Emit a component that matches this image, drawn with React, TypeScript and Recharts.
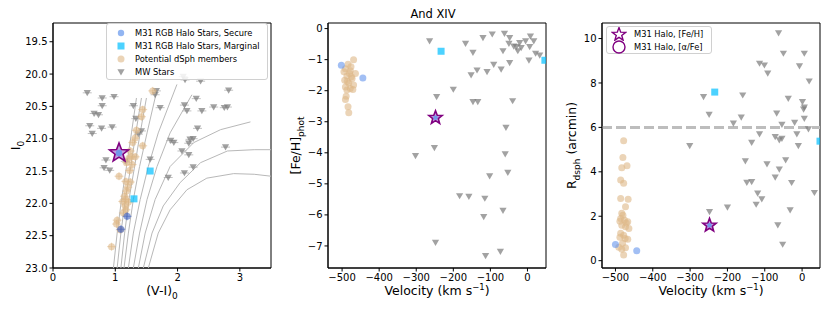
import { ScatterChart, Scatter, XAxis, YAxis, ReferenceLine, ReferenceArea, Legend } from 'recharts'

const FONT = '"DejaVu Sans", Verdana, sans-serif'

// ─── Panel 1: CMD (V-I)0 vs I0 ────────────────────────────────────────────────
// isochrones
const iso1 = [[0.97, 23.0], [1.03, 22.46], [1.10, 21.94], [1.18, 21.43], [1.26, 20.91], [1.34, 20.37]]
const iso2 = [[1.03, 23.0], [1.09, 22.46], [1.16, 21.94], [1.25, 21.43], [1.33, 20.91], [1.42, 20.37]]
const iso3 = [[1.09, 23.0], [1.15, 22.46], [1.22, 21.94], [1.31, 21.43], [1.40, 20.91], [1.50, 20.37]]
const iso4 = [[1.14, 23.0], [1.21, 22.46], [1.29, 21.94], [1.39, 21.43], [1.51, 20.91], [1.67, 20.24]]
const iso5 = [[1.21, 23.0], [1.29, 22.46], [1.40, 21.94], [1.53, 21.43], [1.69, 20.91], [1.99, 20.16]]
const iso6 = [[1.29, 23.0], [1.39, 22.46], [1.51, 21.94], [1.67, 21.43], [1.88, 20.91], [2.23, 20.32]]
const iso7 = [[1.37, 23.0], [1.48, 22.46], [1.64, 21.94], [1.88, 21.43], [2.26, 21.06], [2.69, 20.86], [3.17, 20.74]]
const iso8 = [[1.45, 23.0], [1.59, 22.46], [1.77, 22.04], [2.04, 21.68], [2.37, 21.37], [2.80, 21.19], [3.23, 21.17], [3.5, 21.17]]
const iso9 = [[1.53, 23.0], [1.69, 22.46], [1.88, 22.10], [2.15, 21.79], [2.47, 21.61], [2.90, 21.54], [3.23, 21.55], [3.5, 21.58]]
const isochrones = [iso1, iso2, iso3, iso4, iso5, iso6, iso7, iso8, iso9]

const mwCmd = [
  [0.55, 20.29], [0.79, 20.37], [0.98, 20.35], [0.79, 20.49], [0.66, 20.61], [0.73, 20.63],
  [0.59, 20.80], [0.63, 20.92], [0.78, 20.84], [0.95, 20.82], [1.29, 20.49], [1.33, 20.69],
  [1.37, 20.93], [1.42, 20.88], [1.66, 20.26], [1.64, 20.32], [1.72, 20.52], [2.09, 20.04],
  [2.12, 20.09], [2.37, 20.11], [2.30, 20.38], [2.11, 20.48], [2.15, 20.57], [2.39, 20.57],
  [2.58, 20.51], [2.75, 20.52], [2.82, 20.25], [2.80, 20.51], [2.32, 20.84], [1.89, 21.03],
  [1.94, 21.06], [2.20, 21.01], [2.25, 21.00], [2.18, 21.07], [2.07, 21.19], [2.18, 21.25],
  [2.77, 21.13], [1.56, 21.32], [1.16, 21.35], [0.85, 21.33], [0.82, 21.45], [0.91, 21.49],
  [1.85, 21.60], [2.11, 21.53], [2.25, 21.44],
]
const dsphCmd = [
  [1.60, 20.26], [1.44, 20.55], [1.42, 20.66], [1.34, 20.87], [1.32, 20.99], [1.44, 21.11],
  [1.28, 21.06], [1.24, 21.19], [1.26, 21.28], [1.32, 21.28], [1.18, 21.37], [1.23, 21.49],
  [1.06, 21.58], [1.17, 21.66], [1.24, 21.67], [1.20, 21.75], [1.18, 21.81], [1.15, 21.89],
  [1.17, 21.94], [1.12, 21.97], [1.21, 21.98], [1.16, 22.04], [1.17, 22.10], [1.13, 22.15],
  [1.03, 22.26], [1.02, 22.32], [1.08, 22.41], [0.94, 22.67], [1.22, 21.30], [1.27, 21.40],
]
const secureCmd = [[1.19, 22.20], [1.09, 22.40]]
const marginalCmd = [[1.56, 21.50], [1.30, 21.93]]
const haloCmd = [[1.06, 21.22]]

// ─── Panel 2: velocity vs [Fe/H]phot ─────────────────────────────────────────
const mwFeh = [
  [-264, -0.40], [-167, -0.48], [-147, -0.77], [-120, -0.30], [-95, -0.18], [-62, -0.16],
  [-48, -0.30], [-66, -0.72], [-50, -0.48], [-37, -0.57], [-30, -0.59], [-21, -0.46],
  [-26, -0.72], [-5, -0.40], [8, -0.25], [17, -0.40], [6, -0.59], [-17, -0.62],
  [22, -0.80], [33, -0.86], [4, -1.02], [-48, -1.10], [-91, -1.16], [-71, -1.31],
  [-109, -1.39], [-136, -1.34], [-152, -1.50], [-200, -1.96], [-245, -2.20], [-147, -2.36],
  [-134, -2.36], [-40, -2.33], [-58, -3.19], [-251, -3.84], [-302, -4.10], [-60, -4.04],
  [-53, -4.64], [-102, -4.75], [-183, -5.39], [-158, -5.41], [-115, -5.47], [-66, -5.86],
  [-118, -6.06], [-248, -6.89], [-73, -7.18], [-113, -7.32],
]
const dsphFeh = [
  [-469, -1.00], [-484, -1.15], [-491, -1.29], [-495, -1.39], [-478, -1.36], [-464, -1.45],
  [-487, -1.53], [-473, -1.61], [-493, -1.66], [-482, -1.75], [-469, -1.82], [-491, -1.88],
  [-478, -1.93], [-487, -1.98], [-471, -1.96], [-489, -2.18], [-491, -2.28], [-484, -2.52],
  [-482, -2.71], [-476, -1.23], [-480, -1.45], [-486, -1.70], [-475, -1.55],
]
const secureFeh = [[-502, -1.18], [-444, -1.59]]
const marginalFeh = [[-233, -0.73], [47, -1.02]]
const haloFeh = [[-248, -2.87]]

// ─── Panel 3: velocity vs R_dsph ─────────────────────────────────────────────
const mwRad = [
  [-63, 10.25], [-50, 9.33], [6, 9.33], [-114, 8.88], [-101, 8.80], [-92, 8.43], [-7, 8.76],
  [19, 8.08], [-264, 7.38], [-249, 6.58], [-159, 7.45], [-37, 7.30], [1, 7.15], [6, 6.90],
  [4, 6.81], [-68, 6.63], [-163, 6.45], [-184, 6.18], [-54, 6.13], [-20, 6.22], [6, 6.40],
  [17, 5.92], [-14, 5.70], [-114, 5.70], [-72, 5.58], [-61, 5.43], [-54, 5.50], [-135, 5.32],
  [-10, 5.17], [-301, 5.17], [-152, 4.48], [-94, 4.35], [-44, 4.53], [-61, 4.11], [-148, 3.52],
  [-135, 3.55], [-72, 3.75], [-28, 3.51], [33, 3.06], [-119, 3.03], [-108, 2.77], [-123, 2.53],
  [-32, 2.28], [-200, 2.40], [-248, 2.20], [-65, 1.60], [-52, 0.73],
]
const dsphRad = [
  [-478, 5.40], [-480, 4.65], [-469, 4.27], [-483, 4.18], [-486, 3.63], [-478, 3.48],
  [-486, 2.80], [-466, 2.77], [-473, 2.43], [-483, 2.13], [-486, 1.90], [-488, 1.78],
  [-476, 1.83], [-467, 1.75], [-483, 1.60], [-473, 1.53], [-464, 1.45], [-486, 1.23],
  [-478, 1.15], [-488, 1.05], [-474, 1.00], [-467, 0.96], [-481, 0.78], [-491, 0.60],
  [-483, 0.51], [-473, 0.58], [-478, 0.25], [-480, 2.05], [-471, 1.70],
]
const secureRad = [[-500, 0.73], [-443, 0.45]]
const marginalRad = [[-234, 7.59], [48, 5.38]]
const haloRad = [[-248, 1.59]]

const cmdXTicks = [0, 1, 2, 3]
const cmdYTicks = [19.5, 20.0, 20.5, 21.0, 21.5, 22.0, 22.5, 23.0]
const velTicks = [-500, -400, -300, -200, -100, 0]
const fehTicks = [0, -1, -2, -3, -4, -5, -6, -7]
const radTicks = [0, 2, 4, 6, 8, 10]

const legend1 = ['M31 RGB Halo Stars, Secure', 'M31 RGB Halo Stars, Marginal', 'Potential dSph members', 'MW Stars']
const legend3 = ['M31 Halo, [Fe/H]', 'M31 Halo, [\u03b1/Fe]']

const pts = (a: number[][]) => a.map(([x, y]) => ({ x, y }))
const minus = (v: number) => String(v).replace('-', '\u2212')

// ─── Marker shapes ───────────────────────────────────────────────────────────
const C_MW = '#7a7a7a'
const C_DSPH = '#deb887'
const C_SECURE = '#6495ed'
const C_MARG = '#00bfff'
const C_HALO = '#800080'

function starPath(cx: number, cy: number, R: number, r: number) {
  let d = ''
  for (let i = 0; i < 10; i++) {
    const a = -Math.PI / 2 + (i * Math.PI) / 5
    const rad = i % 2 === 0 ? R : r
    d += (i ? 'L' : 'M') + (cx + rad * Math.cos(a)).toFixed(2) + ',' + (cy + rad * Math.sin(a)).toFixed(2)
  }
  return d + 'Z'
}

const triangle = (err: boolean) => (p: any) => {
  const { cx, cy } = p
  if (cx == null) return <g />
  return (
    <g>
      {err && <line x1={cx - 4.5} x2={cx + 4.5} y1={cy} y2={cy} stroke="#999" strokeOpacity={0.6} />}
      <path d={`M${cx - 3.6},${cy - 2.8}L${cx + 3.6},${cy - 2.8}L${cx},${cy + 3.4}Z`} fill={C_MW} fillOpacity={0.7} />
    </g>
  )
}

const dot = (color: string, err: boolean) => (p: any) => {
  const { cx, cy } = p
  if (cx == null) return <g />
  return (
    <g>
      {err && (
        <g stroke={color} strokeOpacity={0.55}>
          <line x1={cx - 4.5} x2={cx + 4.5} y1={cy} y2={cy} />
          <line x1={cx} x2={cx} y1={cy - 4} y2={cy + 4} />
        </g>
      )}
      <circle cx={cx} cy={cy} r={3.5} fill={color} fillOpacity={0.6} />
    </g>
  )
}

const square = (p: any) => {
  const { cx, cy } = p
  if (cx == null) return <g />
  return <rect x={cx - 3.5} y={cy - 3.5} width={7} height={7} fill={C_MARG} fillOpacity={0.7} />
}

const haloStar = (R: number) => (p: any) => {
  const { cx, cy } = p
  if (cx == null) return <g />
  return (
    <g>
      <path d={starPath(cx, cy, R, R * 0.42)} fill="#9a5fc8" fillOpacity={0.6} stroke={C_HALO} strokeWidth={1.6} strokeLinejoin="miter" />
      <circle cx={cx} cy={cy} r={R * 0.32} fill={C_SECURE} fillOpacity={0.85} />
    </g>
  )
}

const noDot = () => <g />

// ─── Axis titles ─────────────────────────────────────────────────────────────
const XTitle = ({ viewBox, children }: any) => {
  const vb = viewBox || { x: 0, y: 0, width: 0 }
  return (
    <text x={vb.x + vb.width / 2} y={vb.y + 27} textAnchor="middle" fontSize={12.5} fontFamily={FONT} fill="#000">
      {children}
    </text>
  )
}

const YTitle = ({ cx, cy, children }: any) => (
  <text x={cx} y={cy} transform={`rotate(-90 ${cx} ${cy})`} textAnchor="middle" fontSize={12.5} fontFamily={FONT} fill="#000">
    {children}
  </text>
)

const VelocityLabel = (
  <XTitle>
    Velocity (km s<tspan dy={-5} fontSize={8.5}>{'\u22121'}</tspan>
    <tspan dy={5}>)</tspan>
  </XTitle>
)

const tickStyle = { fontSize: 10, fill: '#000', fontFamily: FONT }
const axisProps = {
  tick: tickStyle,
  tickLine: { stroke: '#000' },
  axisLine: { stroke: '#000' },
  tickSize: 3.5,
  interval: 0 as const,
  allowDataOverflow: true,
}

// ─── Legends ─────────────────────────────────────────────────────────────────
const boxStyle: React.CSSProperties = {
  background: 'rgba(255,255,255,0.85)',
  border: '1px solid #d0d0d0',
  borderRadius: 3,
  fontFamily: FONT,
  fontSize: 8.3,
  lineHeight: 1,
  color: '#000',
  whiteSpace: 'nowrap',
  boxSizing: 'border-box',
}

function Legend1Box() {
  const markers = [
    <circle cx={6} cy={6} r={3.2} fill={C_SECURE} fillOpacity={0.7} />,
    <rect x={2.5} y={2.5} width={7} height={7} fill={C_MARG} fillOpacity={0.7} />,
    <circle cx={6} cy={6} r={3.5} fill={C_DSPH} fillOpacity={0.6} />,
    <path d="M2.4,3.2L9.6,3.2L6,9.4Z" fill={C_MW} fillOpacity={0.7} />,
  ]
  return (
    <div style={{ ...boxStyle, width: 162, height: 57, padding: '3px 0 0 8px' }}>
      {legend1.map((t, i) => (
        <div key={t} style={{ display: 'flex', alignItems: 'center', height: 12.8 }}>
          <svg width={12} height={12} style={{ marginRight: 8, flexShrink: 0 }}>{markers[i]}</svg>
          <span>{t}</span>
        </div>
      ))}
    </div>
  )
}

function Legend3Box() {
  const markers = [
    <path d={starPath(8, 7.5, 7, 2.9)} fill="#fff" stroke={C_HALO} strokeWidth={1.4} />,
    <circle cx={8} cy={7} r={6} fill="#fff" stroke={C_HALO} strokeWidth={1.4} />,
  ]
  return (
    <div style={{ ...boxStyle, width: 106, height: 28, padding: '0 0 0 4px' }}>
      {legend3.map((t, i) => (
        <div key={t} style={{ display: 'flex', alignItems: 'center', height: 13.5 }}>
          <svg width={16} height={14} style={{ marginRight: 7, flexShrink: 0 }}>{markers[i]}</svg>
          <span>{t}</span>
        </div>
      ))}
    </div>
  )
}

// ─── Panels ──────────────────────────────────────────────────────────────────
function CmdPanel() {
  return (
    <ScatterChart width={280} height={312} margin={{ top: 23, right: 9, bottom: 0, left: 0 }}>
      <XAxis type="number" dataKey="x" domain={[0, 3.5]} ticks={cmdXTicks} height={44} {...axisProps}
        label={<XTitle>(V-I)<tspan dy={4} fontSize={9}>0</tspan></XTitle>} />
      <YAxis type="number" dataKey="y" domain={[19.21, 23.0]} reversed ticks={cmdYTicks} width={53} {...axisProps}
        tickFormatter={(v: number) => v.toFixed(1)}
        label={<YTitle cx={20} cy={145.5}>I<tspan dy={4} fontSize={9}>0</tspan></YTitle>} />
      <ReferenceArea x1={0} x2={3.5} y1={19.21} y2={23.0} fill="none" stroke="#000" strokeWidth={1} />
      {isochrones.map((c, i) => (
        <Scatter key={i} data={pts(c)} line={{ stroke: '#b8b8b8', strokeWidth: 1 }} shape={noDot} isAnimationActive={false} />
      ))}
      <Scatter data={pts(mwCmd)} shape={triangle(true)} isAnimationActive={false} />
      <Scatter data={pts(dsphCmd)} shape={dot(C_DSPH, true)} isAnimationActive={false} />
      <Scatter data={pts(secureCmd)} shape={dot('#4060c0', true)} isAnimationActive={false} />
      <Scatter data={pts(marginalCmd)} shape={square} isAnimationActive={false} />
      <Scatter data={pts(haloCmd)} shape={haloStar(10)} isAnimationActive={false} />
      <Legend layout="vertical" align="center" verticalAlign="middle" content={() => <Legend1Box />}
        wrapperStyle={{ left: 106, top: 23, width: 162 }} />
    </ScatterChart>
  )
}

function FehPanel() {
  return (
    <ScatterChart width={275} height={312} margin={{ top: 23, right: 9, bottom: 0, left: 0 }}>
      <text x={153} y={18} textAnchor="middle" fontSize={11.5} fontFamily={FONT} fill="#000">And XIV</text>
      <XAxis type="number" dataKey="x" domain={[-538, 50]} ticks={velTicks} height={44} {...axisProps}
        tickFormatter={minus} label={VelocityLabel} />
      <YAxis type="number" dataKey="y" domain={[-7.71, 0.18]} ticks={fehTicks} width={48} {...axisProps}
        tickFormatter={minus}
        label={<YTitle cx={20} cy={145.5}>[Fe/H]<tspan dy={4} fontSize={9}>phot</tspan></YTitle>} />
      <ReferenceArea x1={-538} x2={50} y1={-7.71} y2={0.18} fill="none" stroke="#000" strokeWidth={1} />
      <Scatter data={pts(mwFeh)} shape={triangle(false)} isAnimationActive={false} />
      <Scatter data={pts(dsphFeh)} shape={dot(C_DSPH, false)} isAnimationActive={false} />
      <Scatter data={pts(secureFeh)} shape={dot(C_SECURE, false)} isAnimationActive={false} />
      <Scatter data={pts(marginalFeh)} shape={square} isAnimationActive={false} />
      <Scatter data={pts(haloFeh)} shape={haloStar(7)} isAnimationActive={false} />
    </ScatterChart>
  )
}

function RadPanel() {
  return (
    <ScatterChart width={275} height={312} margin={{ top: 23, right: 10, bottom: 0, left: 0 }}>
      <XAxis type="number" dataKey="x" domain={[-536, 48]} ticks={velTicks} height={44} {...axisProps}
        tickFormatter={minus} label={VelocityLabel} />
      <YAxis type="number" dataKey="y" domain={[-0.33, 10.7]} ticks={radTicks} width={47} {...axisProps}
        label={<YTitle cx={21} cy={145.5}>R<tspan dy={4} fontSize={9}>dsph</tspan><tspan dy={-4}> (arcmin)</tspan></YTitle>} />
      <ReferenceArea x1={-536} x2={48} y1={-0.33} y2={10.7} fill="none" stroke="#000" strokeWidth={1} />
      <ReferenceLine y={6} stroke="#bdbdbd" strokeWidth={3} strokeDasharray="10 4" />
      <Scatter data={pts(mwRad)} shape={triangle(false)} isAnimationActive={false} />
      <Scatter data={pts(dsphRad)} shape={dot(C_DSPH, false)} isAnimationActive={false} />
      <Scatter data={pts(secureRad)} shape={dot(C_SECURE, false)} isAnimationActive={false} />
      <Scatter data={pts(marginalRad)} shape={square} isAnimationActive={false} />
      <Scatter data={pts(haloRad)} shape={haloStar(7)} isAnimationActive={false} />
      <Legend layout="vertical" align="center" verticalAlign="middle" content={() => <Legend3Box />}
        wrapperStyle={{ left: 51, top: 26, width: 106 }} />
    </ScatterChart>
  )
}

export default function App() {
  return (
    <div style={{ position: 'absolute', left: 0, top: 0, width: 830, height: 312, background: '#fff', overflow: 'hidden' }}>
      <div style={{ position: 'absolute', left: 0, top: 0 }}><CmdPanel /></div>
      <div style={{ position: 'absolute', left: 280, top: 0 }}><FehPanel /></div>
      <div style={{ position: 'absolute', left: 555, top: 0 }}><RadPanel /></div>
    </div>
  )
}
